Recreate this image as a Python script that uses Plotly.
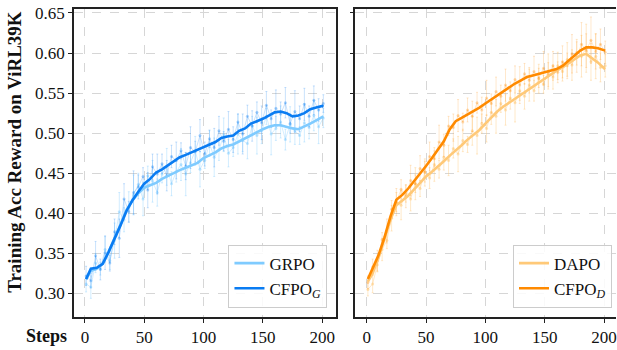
import plotly.graph_objects as go

# ---------------- data ----------------
steps_smooth = [1, 5, 10, 15, 20, 25, 30, 35, 40, 45, 50, 55, 60, 65, 70, 75, 80, 85, 90, 95, 100,
                105, 110, 115, 120, 125, 130, 135, 140, 145, 150, 155, 160, 165, 170, 175, 180,
                185, 190, 195, 200, 201]

grpo_smooth = [0.318, 0.328, 0.331, 0.337, 0.352, 0.368, 0.386, 0.404, 0.416, 0.425, 0.432, 0.435,
               0.438, 0.443, 0.447, 0.450, 0.454, 0.457, 0.460, 0.463, 0.469, 0.472, 0.476, 0.481,
               0.484, 0.486, 0.490, 0.494, 0.497, 0.502, 0.505, 0.508, 0.510, 0.510, 0.508, 0.506,
               0.505, 0.508, 0.512, 0.516, 0.520, 0.521]
cfpo_g_smooth = [0.318, 0.331, 0.332, 0.337, 0.352, 0.368, 0.385, 0.403, 0.416, 0.427, 0.437, 0.443,
                 0.451, 0.455, 0.460, 0.466, 0.470, 0.473, 0.476, 0.479, 0.483, 0.486, 0.489, 0.494,
                 0.496, 0.497, 0.503, 0.506, 0.512, 0.515, 0.518, 0.522, 0.526, 0.527, 0.525, 0.521,
                 0.522, 0.525, 0.530, 0.532, 0.534, 0.533]
dapo_smooth = [0.315, 0.325, 0.345, 0.368, 0.392, 0.410, 0.416, 0.422, 0.430, 0.438, 0.446, 0.452,
               0.458, 0.465, 0.472, 0.478, 0.485, 0.492, 0.498, 0.504, 0.512, 0.520, 0.527, 0.533,
               0.538, 0.543, 0.548, 0.553, 0.558, 0.563, 0.569, 0.574, 0.578, 0.582, 0.587, 0.592,
               0.597, 0.599, 0.594, 0.588, 0.581, 0.580]
cfpo_d_smooth = [0.318, 0.331, 0.348, 0.370, 0.396, 0.417, 0.423, 0.431, 0.440, 0.449, 0.459, 0.469,
                 0.480, 0.490, 0.505, 0.515, 0.519, 0.523, 0.527, 0.532, 0.537, 0.542, 0.548, 0.552,
                 0.558, 0.562, 0.566, 0.570, 0.572, 0.574, 0.576, 0.578, 0.580, 0.584, 0.590, 0.596,
                 0.603, 0.607, 0.607, 0.606, 0.604, 0.603]

steps_raw = [1, 5, 9, 13, 17, 21, 25, 29, 33, 37, 41, 45, 49, 53, 57, 61, 65, 69, 73, 77, 81, 85,
             89, 93, 97, 101, 105, 109, 113, 117, 121, 125, 129, 133, 137, 141, 145, 149, 153, 157,
             161, 165, 169, 173, 177, 181, 185, 189, 193, 197, 201]

grpo_raw = [0.312, 0.308, 0.338, 0.331, 0.355, 0.341, 0.366, 0.402, 0.392, 0.408, 0.423, 0.436,
            0.418, 0.447, 0.440, 0.426, 0.449, 0.458, 0.437, 0.452, 0.461, 0.449, 0.463, 0.478,
            0.455, 0.466, 0.487, 0.470, 0.479, 0.498, 0.475, 0.482, 0.499, 0.491, 0.487, 0.509,
            0.497, 0.503, 0.521, 0.499, 0.506, 0.514, 0.492, 0.511, 0.503, 0.497, 0.513, 0.507,
            0.522, 0.508, 0.519]
grpo_err = [0.010, 0.014, 0.012, 0.008, 0.016, 0.011, 0.022, 0.024, 0.015, 0.019, 0.025, 0.014,
            0.021, 0.012, 0.026, 0.017, 0.011, 0.023, 0.015, 0.013, 0.020, 0.027, 0.012, 0.018,
            0.022, 0.010, 0.016, 0.024, 0.013, 0.021, 0.017, 0.011, 0.025, 0.014, 0.019, 0.012,
            0.023, 0.016, 0.010, 0.026, 0.015, 0.020, 0.013, 0.022, 0.017, 0.011, 0.024, 0.014,
            0.019, 0.021, 0.012]

cfpo_g_raw = [0.322, 0.316, 0.347, 0.330, 0.351, 0.338, 0.377, 0.369, 0.418, 0.402, 0.426, 0.433,
              0.446, 0.429, 0.458, 0.449, 0.462, 0.447, 0.471, 0.466, 0.478, 0.459, 0.482, 0.477,
              0.497, 0.474, 0.493, 0.482, 0.503, 0.490, 0.505, 0.492, 0.514, 0.499, 0.521, 0.509,
              0.526, 0.513, 0.535, 0.518, 0.531, 0.524, 0.538, 0.512, 0.527, 0.518, 0.536, 0.521,
              0.541, 0.529, 0.537]
cfpo_g_err = [0.012, 0.009, 0.018, 0.013, 0.021, 0.010, 0.016, 0.024, 0.019, 0.013, 0.027, 0.015,
              0.011, 0.022, 0.016, 0.025, 0.012, 0.019, 0.014, 0.023, 0.010, 0.017, 0.026, 0.013,
              0.020, 0.015, 0.011, 0.024, 0.018, 0.012, 0.022, 0.016, 0.010, 0.025, 0.014, 0.019,
              0.013, 0.021, 0.017, 0.011, 0.023, 0.015, 0.019, 0.012, 0.026, 0.016, 0.020, 0.013,
              0.018, 0.014, 0.011]

dapo_raw = [0.305, 0.312, 0.336, 0.355, 0.366, 0.394, 0.414, 0.410, 0.425, 0.418, 0.437, 0.431,
            0.451, 0.444, 0.461, 0.455, 0.470, 0.466, 0.481, 0.474, 0.491, 0.486, 0.503, 0.497,
            0.512, 0.506, 0.526, 0.521, 0.537, 0.529, 0.544, 0.538, 0.553, 0.546, 0.560, 0.553,
            0.568, 0.561, 0.577, 0.570, 0.584, 0.577, 0.592, 0.585, 0.601, 0.596, 0.606, 0.589,
            0.596, 0.582, 0.584]
dapo_err = [0.008, 0.011, 0.009, 0.014, 0.010, 0.016, 0.012, 0.018, 0.011, 0.015, 0.020, 0.010,
            0.017, 0.013, 0.021, 0.011, 0.016, 0.019, 0.012, 0.022, 0.014, 0.010, 0.018, 0.023,
            0.012, 0.017, 0.015, 0.021, 0.011, 0.019, 0.014, 0.024, 0.012, 0.016, 0.020, 0.013,
            0.018, 0.011, 0.022, 0.015, 0.017, 0.012, 0.021, 0.019, 0.016, 0.026, 0.030, 0.023,
            0.028, 0.018, 0.014]

cfpo_d_raw = [0.314, 0.333, 0.341, 0.367, 0.378, 0.405, 0.414, 0.430, 0.421, 0.441, 0.437, 0.456,
              0.452, 0.471, 0.468, 0.489, 0.485, 0.509, 0.507, 0.522, 0.514, 0.529, 0.521, 0.538,
              0.529, 0.544, 0.537, 0.552, 0.546, 0.560, 0.553, 0.567, 0.560, 0.574, 0.566, 0.577,
              0.569, 0.581, 0.573, 0.584, 0.576, 0.589, 0.584, 0.599, 0.595, 0.611, 0.603, 0.616,
              0.602, 0.611, 0.601]
cfpo_d_err = [0.008, 0.010, 0.013, 0.009, 0.015, 0.011, 0.017, 0.012, 0.014, 0.019, 0.011, 0.016,
              0.013, 0.018, 0.010, 0.021, 0.014, 0.012, 0.017, 0.020, 0.011, 0.015, 0.019, 0.013,
              0.016, 0.022, 0.012, 0.018, 0.014, 0.020, 0.011, 0.017, 0.023, 0.013, 0.016, 0.019,
              0.012, 0.021, 0.015, 0.018, 0.013, 0.020, 0.016, 0.024, 0.019, 0.027, 0.021, 0.029,
              0.022, 0.019, 0.014]

x_ticks = [0, 50, 100, 150, 200]
y_ticks = [0.30, 0.35, 0.40, 0.45, 0.50, 0.55, 0.60, 0.65]

C_GRPO = "#7fcbff"
C_CFPO_G = "#0a7cf2"
C_DAPO = "#ffc978"
C_CFPO_D = "#ff8a00"

FONT = "Liberation Serif"

# ---------------- figure ----------------
W, H = 617, 350
fig = go.Figure()


def rgba(hex_color, a):
    h = hex_color.lstrip("#")
    r, g, b = int(h[0:2], 16), int(h[2:4], 16), int(h[4:6], 16)
    return f"rgba({r},{g},{b},{a})"


def add_raw(xax, yax, ys, errs, color, alpha):
    fig.add_trace(go.Scatter(
        x=steps_raw, y=ys, mode="lines+markers", xaxis=xax, yaxis=yax,
        line=dict(color=rgba(color, alpha), width=1),
        marker=dict(color=rgba(color, alpha + 0.1), size=3),
        error_y=dict(type="data", array=errs, visible=True,
                     color=rgba(color, alpha), thickness=1, width=1),
        showlegend=False, hoverinfo="skip"))


def add_smooth(xax, yax, ys, color, name, legend):
    fig.add_trace(go.Scatter(
        x=steps_smooth, y=ys, mode="lines", xaxis=xax, yaxis=yax,
        line=dict(color=color, width=2.6), name=name, legend=legend))


add_raw("x", "y", grpo_raw, grpo_err, C_GRPO, 0.35)
add_raw("x", "y", cfpo_g_raw, cfpo_g_err, C_CFPO_G, 0.22)
add_smooth("x", "y", grpo_smooth, C_GRPO, "GRPO", "legend")
add_smooth("x", "y", cfpo_g_smooth, C_CFPO_G, "CFPO<sub><i>G</i></sub>", "legend")

add_raw("x2", "y2", dapo_raw, dapo_err, C_DAPO, 0.4)
add_raw("x2", "y2", cfpo_d_raw, cfpo_d_err, C_CFPO_D, 0.2)
add_smooth("x2", "y2", dapo_smooth, C_DAPO, "DAPO", "legend2")
add_smooth("x2", "y2", cfpo_d_smooth, C_CFPO_D, "CFPO<sub><i>D</i></sub>", "legend2")

axis_common = dict(
    showgrid=True, gridcolor="#d6d6d6", griddash="dash", gridwidth=1,
    zeroline=False, showline=True, linecolor="#222222", linewidth=1.5,
    ticks="outside", ticklen=4, tickwidth=1, tickcolor="#222222",
    ticklabeloverflow="allow",
    tickfont=dict(family=FONT, size=17, color="#111111"),
)

y_range = [0.2705, 0.655]

fig.update_layout(
    width=W, height=H,
    margin=dict(l=0, r=0, t=0, b=0),
    paper_bgcolor="white", plot_bgcolor="white",
    font=dict(family=FONT, size=17, color="#111111"),
    xaxis=dict(domain=[74 / W, 336.7 / W], range=[-9.3, 211.8], tickvals=x_ticks,
               mirror=True, anchor="y", **axis_common),
    yaxis=dict(domain=[1 - 316.7 / H, 1 - 4 / H], range=y_range, tickvals=y_ticks,
               tickformat=".2f", mirror=True, anchor="x", **axis_common),
    xaxis2=dict(domain=[356 / W, 1.0], range=[-9.5, 210.1], tickvals=x_ticks,
                mirror=True, anchor="y2", **axis_common),
    yaxis2=dict(domain=[1 - 316.7 / H, 1 - 4 / H], range=y_range, tickvals=y_ticks,
                showticklabels=False, mirror=False, anchor="x2", **axis_common),
    legend=dict(x=328 / W, y=1 - 307 / H, xanchor="right", yanchor="bottom",
                bgcolor="rgba(255,255,255,0.85)", bordercolor="#cccccc", borderwidth=1,
                font=dict(family=FONT, size=17, color="#111111"),
                tracegroupgap=0, itemwidth=30),
    legend2=dict(x=613 / W, y=1 - 307 / H, xanchor="right", yanchor="bottom",
                 bgcolor="rgba(255,255,255,0.85)", bordercolor="#cccccc", borderwidth=1,
                 font=dict(family=FONT, size=17, color="#111111"),
                 tracegroupgap=0, itemwidth=30),
    annotations=[
        dict(text="<b>Training Acc Reward on ViRL39K</b>", xref="paper", yref="paper",
             x=15 / W, y=1 - 149 / H, textangle=-90, showarrow=False,
             font=dict(family=FONT, size=19, color="#111111"),
             xanchor="center", yanchor="middle"),
        dict(text="<b>Steps</b>", xref="paper", yref="paper",
             x=47 / W, y=1 - 336 / H, showarrow=False,
             font=dict(family=FONT, size=18, color="#111111"),
             xanchor="center", yanchor="middle"),
    ],
)

fig.write_html("out.html",
               config={"displayModeBar": False},
               post_script="document.body.style.margin='0';document.body.style.overflow='hidden';")
